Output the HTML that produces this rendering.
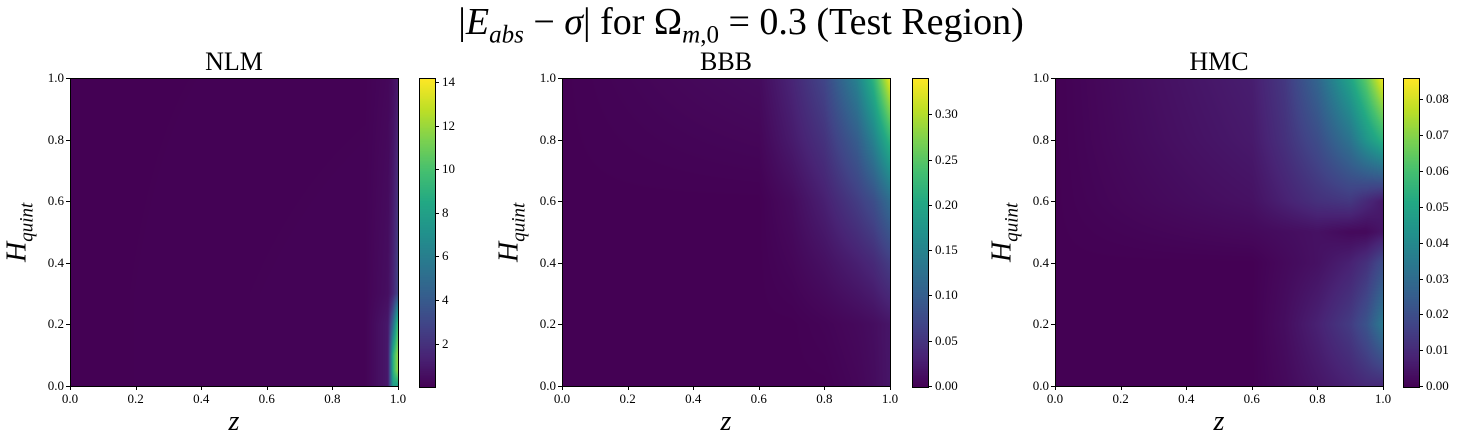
<!DOCTYPE html>
<html><head><meta charset="utf-8">
<style>
body{margin:0;background:#fff;width:1462px;height:448px;overflow:hidden;position:relative;font-family:"Liberation Serif",serif;}
canvas{position:absolute;}
.ax{position:absolute;border:1px solid #000;box-sizing:border-box;pointer-events:none;}
.t{position:absolute;font-size:13px;color:#000;white-space:nowrap;}
.tk{position:absolute;background:#000;}
</style></head><body>
<div style="position:absolute;left:0;width:1482px;top:0px;text-align:center;font-size:38px;">|<i>E<sub style="font-size:25px">abs</sub></i> − <i>σ</i>| for Ω<sub style="font-size:25px"><i>m</i>,0</sub> = 0.3 (Test Region)</div>
<div id="root"></div>
<script>
const panelNames=["NLM","BBB","HMC"];
const nlmZ=[0,0.9,0.97,0.985,1.0];
const nlmH=[0,0.05,0.1,0.2,0.25,0.3,1];
const nlmV=[[0.05,0.15,1,8,8],[0.05,0.15,1,9,12],[0.05,0.15,1,9,12],[0.05,0.15,1,5,10],[0.05,0.15,0.8,3,7],[0.05,0.15,0.6,1.5,3],[0.05,0.1,0.3,0.6,1.0]];
const bbbZ=[0,0.6,0.7,0.8,0.9,0.95,1.0];
const bbbH=[0,0.2,0.4,0.6,0.8,1.0];
const bbbV=[[0,0,0,0,0.005,0.01,0.02],[0,0,0,0.003,0.008,0.012,0.02],[0,0,0.005,0.015,0.03,0.04,0.06],[0,0,0.01,0.03,0.06,0.08,0.12],[0,0.005,0.025,0.05,0.1,0.15,0.22],[0,0.01,0.035,0.07,0.15,0.22,0.33]];
const hmcZ=[0,0.6,0.7,0.8,0.9,0.95,1.0];
const hmcH=[0,0.2,0.4,0.5,0.6,0.8,1.0];
const hmcV=[[0,0,0.002,0.005,0.008,0.01,0.01],[0,0,0.003,0.008,0.015,0.022,0.035],[0,0,0.002,0.004,0.008,0.012,0.02],[0,0.002,0.003,0.004,0.002,0.002,0.005],[0,0.004,0.008,0.012,0.014,0.01,0.006],[0,0.006,0.012,0.02,0.033,0.045,0.055],[0,0.007,0.014,0.028,0.05,0.065,0.085]];
const vRange=[[0.05,14.2],[0,0.34],[0,0.086]];
const cbTicks=[[2,4,6,8,10,12,14],[0,0.05,0.1,0.15,0.2,0.25,0.3],[0,0.01,0.02,0.03,0.04,0.05,0.06,0.07,0.08]];
const cbLabels=[["2","4","6","8","10","12","14"],["0.00","0.05","0.10","0.15","0.20","0.25","0.30"],["0.00","0.01","0.02","0.03","0.04","0.05","0.06","0.07","0.08"]];
const axTicks=[0,0.2,0.4,0.6,0.8,1.0];
const axLabels=["0.0","0.2","0.4","0.6","0.8","1.0"];
const grids=[[nlmZ,nlmH,nlmV],[bbbZ,bbbH,bbbV],[hmcZ,hmcH,hmcV]];

const VIR=["#440154","#482475","#414487","#355f8d","#2a788e","#21918c","#22a884","#44bf70","#7ad151","#bddf26","#fde725"].map(h=>[1,3,5].map(i=>parseInt(h.substr(i,2),16)));
function vir(t){t=Math.max(0,Math.min(1,t));const f=t*10,i=Math.min(9,Math.floor(f)),r=f-i;return VIR[i].map((c,k)=>c+(VIR[i+1][k]-c)*r);}
function seg(arr,v){for(let i=0;i<arr.length-1;i++){if(v<=arr[i+1])return [i,(v-arr[i])/(arr[i+1]-arr[i])];}return [arr.length-2,1];}
function sample(g,z,h){const [zs,hs,V]=g;const [i,a]=seg(zs,z),[j,b]=seg(hs,h);
 return V[j][i]*(1-a)*(1-b)+V[j][i+1]*a*(1-b)+V[j+1][i]*(1-a)*b+V[j+1][i+1]*a*b;}

const root=document.getElementById('root');
const axL=[70,562,1055],cbL=[419,912,1403],T=78,W=328,H=308,CW=15;
function el(tag,css,name,txt){const e=document.createElement(tag);e.style.cssText=css;


if(txt!==undefined)e.innerHTML=txt;root.appendChild(e);return e;}
for(let p=0;p<3;p++){
 const L=axL[p],[vmin,vmax]=vRange[p];
 const c=el('canvas',`left:${L}px;top:${T}px;`,'heatmap-'+panelNames[p].toLowerCase());
 c.width=W;c.height=H;const ctx=c.getContext('2d');const img=ctx.createImageData(W,H);
 for(let y=0;y<H;y++)for(let x=0;x<W;x++){const v=sample(grids[p],(x+0.5)/W,1-(y+0.5)/H);
  const col=vir((v-vmin)/(vmax-vmin));const o=(y*W+x)*4;img.data[o]=col[0];img.data[o+1]=col[1];img.data[o+2]=col[2];img.data[o+3]=255;}
 ctx.putImageData(img,0,0);
 el('div',`left:${L}px;top:${T}px;width:${W+1}px;height:${H+1}px;`,'plot-frame').className='ax';
 el('div',`position:absolute;left:${L}px;width:${W}px;top:47px;text-align:center;font-size:26px;`,'panel-title-'+panelNames[p].toLowerCase(),panelNames[p]);
 axTicks.forEach((t,k)=>{const x=L+t*W,y=T+H-t*H;
  el('div',`left:${x}px;top:${T+H}px;width:1px;height:4px;`,'x-tick').className='tk';
  const lx=el('div',`left:${x-20}px;width:40px;text-align:center;top:${T+H+5}px;`,'x-tick-label',axLabels[k]);lx.className='t';lx.style.textAlign='center';
  el('div',`left:${L-4}px;top:${y}px;width:4px;height:1px;`,'y-tick').className='tk';
  const ly=el('div',`left:${L-42}px;width:36px;text-align:right;top:${y-8}px;`,'y-tick-label',axLabels[k]);ly.className='t';ly.style.textAlign='right';
 });
 el('div',`position:absolute;left:${L}px;width:${W}px;top:406px;text-align:center;font-size:28px;font-style:italic;`,'x-axis-title','z');
 el('div',`position:absolute;left:${L-100}px;top:214px;width:100px;text-align:center;transform:rotate(-90deg);font-size:28px;`,'y-axis-title','<i>H<sub style="font-size:19px">quint</sub></i>');
 const C=cbL[p];
 const cb=el('canvas',`left:${C}px;top:${T}px;border:1px solid #000;`,'colorbar-'+panelNames[p].toLowerCase());
 cb.width=CW;cb.height=H;const cx=cb.getContext('2d');
 for(let y=0;y<H;y++){const col=vir(1-y/H);cx.fillStyle=`rgb(${col.map(Math.round).join(',')})`;cx.fillRect(0,y,CW,1);}
 cbTicks[p].forEach((t,k)=>{const y=T+H-(t-vmin)/(vmax-vmin)*H;
  el('div',`left:${C+CW+1}px;top:${y}px;width:4px;height:1px;`,'colorbar-tick').className='tk';
  const lb=el('div',`left:${C+CW+8}px;top:${y-8}px;`,'colorbar-tick-label',cbLabels[p][k]);lb.className='t';});
}
</script>
</body></html>
